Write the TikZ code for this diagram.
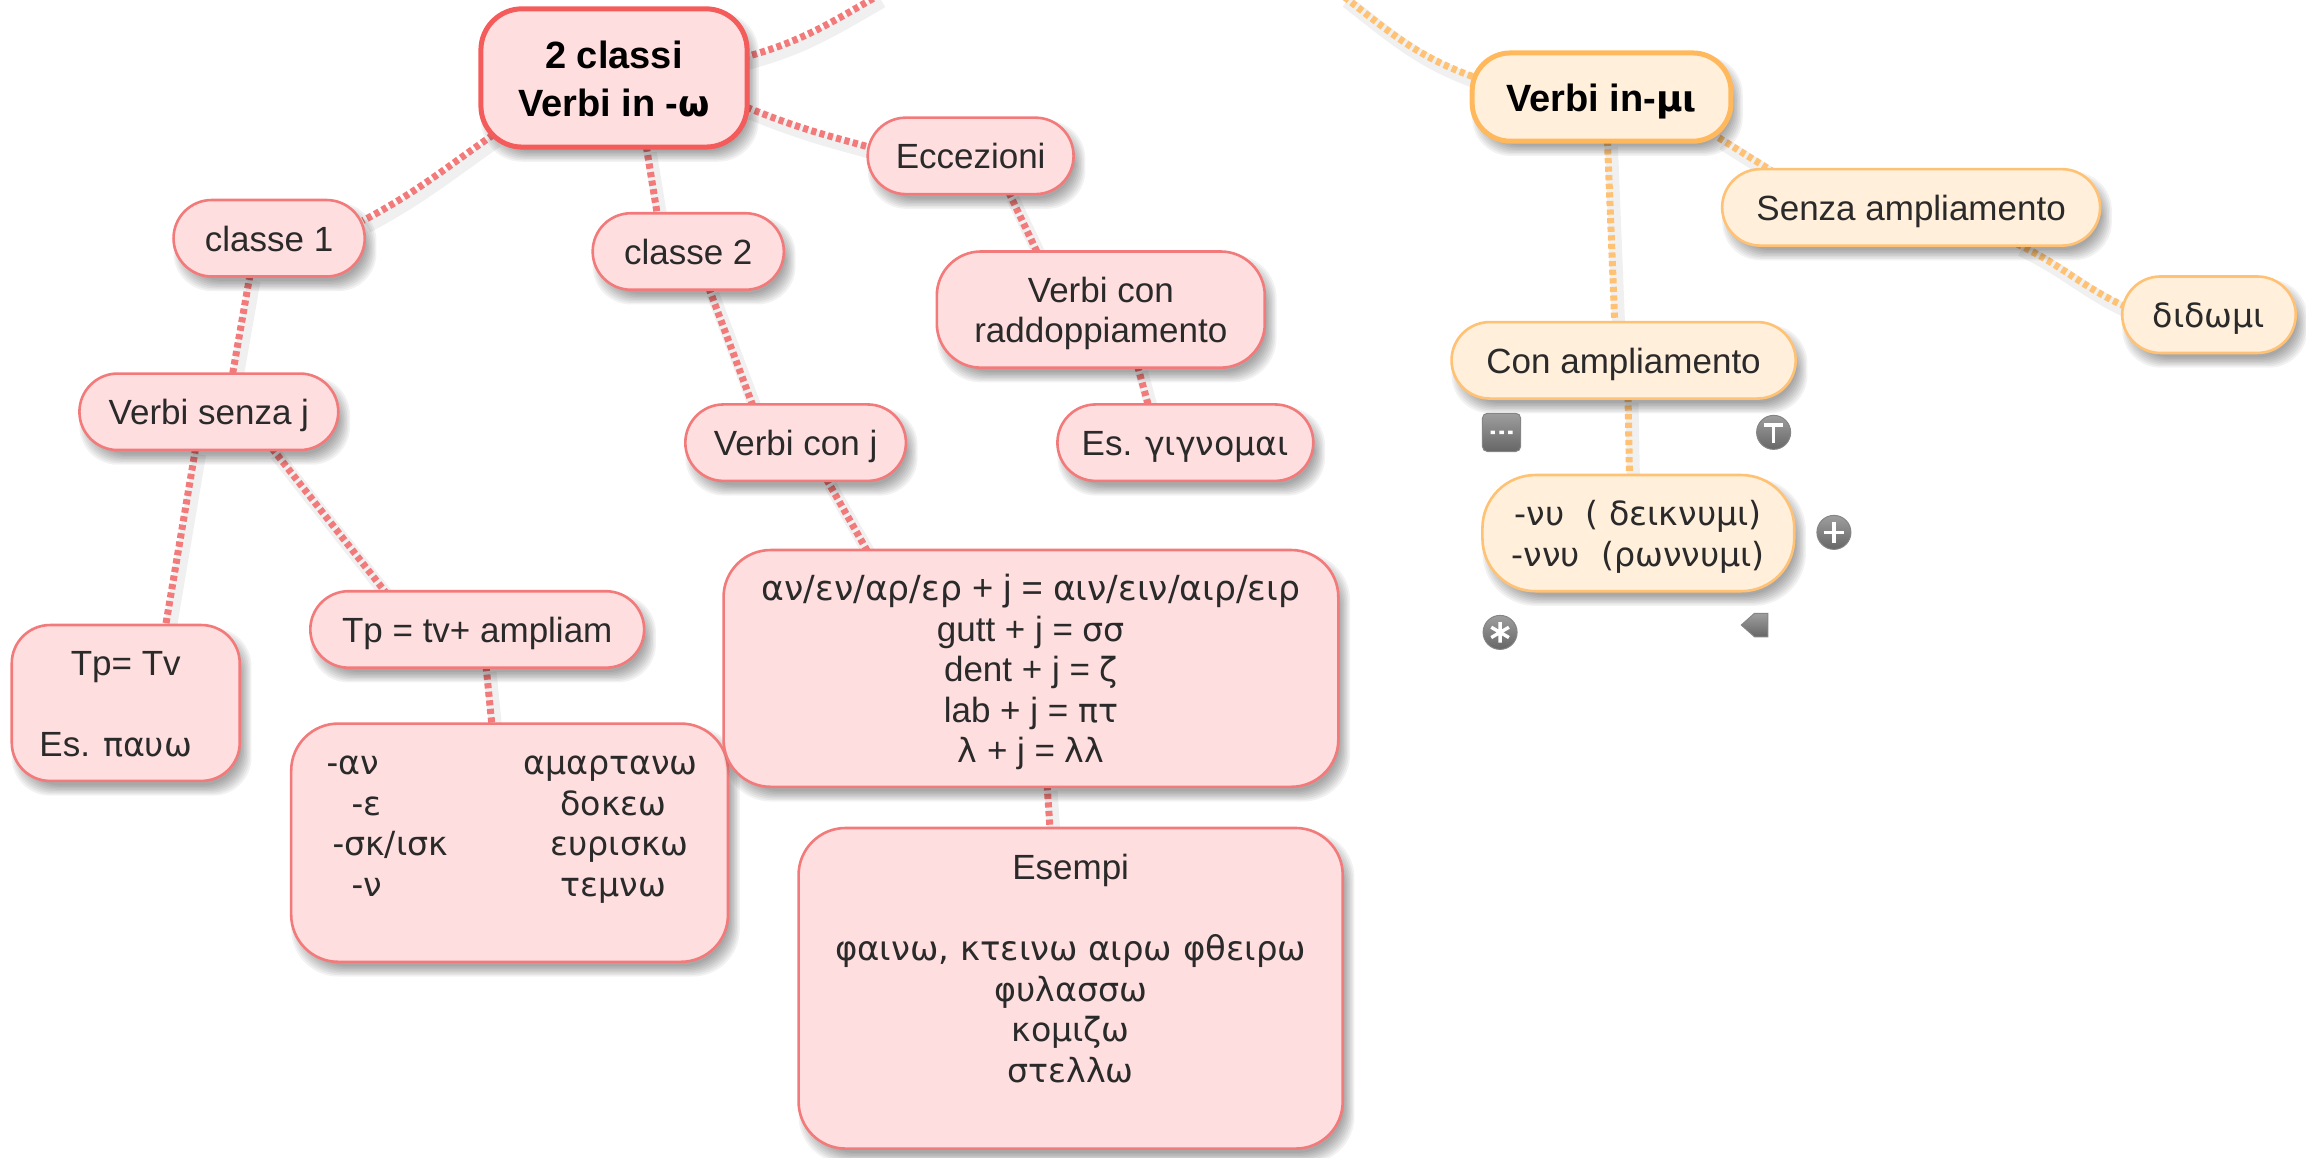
\documentclass[tikz,border=0pt]{standalone}
\usepackage{fontspec}
\setmainfont{Liberation Sans}
\newfontfamily\grk[Scale=0.95]{DejaVu Sans}
\usetikzlibrary{calc,backgrounds}
\definecolor{redfill}{HTML}{FFDEDF}
\definecolor{redline}{HTML}{F27A7A}
\definecolor{redroot}{HTML}{F45C5C}
\definecolor{orfill}{HTML}{FFEFDB}
\definecolor{orline}{HTML}{FFC274}
\definecolor{orroot}{HTML}{FFB85C}
\definecolor{inktext}{HTML}{2A2A2A}
\tikzset{
  redbox/.style={draw=redline,fill=redfill,line width=2.6pt},
  orbox/.style={draw=orline,fill=orfill,line width=2.6pt},
  redtop/.style={draw=redroot,fill=redfill,line width=5pt,text=black,font=\fontsize{38}{48}\selectfont\bfseries},
  ortop/.style={draw=orroot,fill=orfill,line width=5pt,text=black,font=\fontsize{38}{48}\selectfont\bfseries},
  linkbase/.style={line width=7pt,dash pattern=on 5.2pt off 3.4pt,
    preaction={draw=black,draw opacity=.06,line width=13pt,solid,transform canvas={shift={(4pt,-6pt)}}}},
  redlink/.style={linkbase,draw=redline},
  orlink/.style={linkbase,draw=orline},
  iconfill/.style={top color=black!38,bottom color=black!60,draw=black!48,line width=1pt},
  iconmark/.style={draw=white,line width=3.4pt},
}
\newcommand{\mapnode}[8]{%
  \pgfmathsetmacro{\mwid}{(#5-#3)*1.470663}%
  \pgfmathsetmacro{\mhgt}{(#6-#4)*1.470663}%
  \pgfmathsetmacro{\mrad}{#7*1.470663}%
  \foreach \i in {-3,-2,-1,0,1,2,3,4}{%
    \pgfmathsetmacro{\ax}{#3+4-\i}\pgfmathsetmacro{\ay}{#4+6-\i}%
    \pgfmathsetmacro{\bx}{#5+4+\i}\pgfmathsetmacro{\by}{#6+6+\i}%
    \path[fill=black,fill opacity=.05,rounded corners=\mrad pt] (\ax,\ay) rectangle (\bx,\by);%
  }%
  \node[#1,rectangle,rounded corners=\mrad pt,inner sep=0pt,
    minimum width=\mwid pt,minimum height=\mhgt pt] (#2) at ({(#3+#5)/2},{(#4+#6)/2})
    {\raisebox{-5pt}[\height][\depth]{\begin{tabular}{@{}c@{}}#8\end{tabular}}};%
}
\newcommand{\twocol}[4]{\makebox[366pt][l]{\hspace*{#1pt}\makebox[0pt][l]{#2}\hspace*{#3pt}\makebox[0pt][c]{#4}}}
\pgfdeclarelayer{links}
\pgfsetlayers{links,main}
\begin{document}
\begin{tikzpicture}[x=1.470663pt,y=-1.470663pt,text=inktext,font=\fontsize{35}{40.5}\selectfont]
\useasboundingbox (0,0) rectangle (1568,786.73);

\mapnode{redtop}{rootw}{327}{6}{508}{100}{28}{2 classi\\Verbi in -{\grk ω}}
\mapnode{redbox}{classa}{118}{136}{248}{188}{26}{classe 1}
\mapnode{redbox}{classb}{403}{145}{533}{197}{26}{classe 2}
\mapnode{redbox}{ecc}{590}{80}{730}{132}{26}{Eccezioni}
\mapnode{redbox}{radd}{637}{171}{860}{250}{30}{Verbi con\\raddoppiamento}
\mapnode{redbox}{esg}{719}{275}{893}{327}{26}{Es. {\grk γιγνομαι}}
\mapnode{redbox}{vsj}{54}{254}{230}{306}{26}{Verbi senza j}
\mapnode{redbox}{vcj}{466}{275}{616}{327}{26}{Verbi con j}
\mapnode{redbox}{tpa}{8}{425}{163}{531}{26}{Tp= Tv\\ \\Es. {\grk παυω}\hspace*{20pt}}
\mapnode{redbox}{tpb}{211}{402}{438}{454}{26}{Tp = tv+ ampliam}
\mapnode{redbox}{suff}{198}{492}{495}{654}{32}{%
  \twocol{0}{-{\grk αν}}{284}{\grk αμαρτανω}\\
  \twocol{25}{-{\grk ε}}{262}{\grk δοκεω}\\
  \twocol{6}{-{\grk σκ/ισκ}}{287}{\grk ευρισκω}\\
  \twocol{25}{-{\grk ν}}{262}{\grk τεμνω}\\ \mbox{}}
\mapnode{redbox}{rules}{492}{374}{910}{535}{32}{%
  \fontsize{36.4}{40.5}\selectfont{\grk αν/εν/αρ/ερ} + j = {\grk αιν/ειν/αιρ/ειρ}\\
  gutt + j = {\grk σσ}\\
  dent + j = {\grk ζ}\\
  lab + j = {\grk πτ}\\
  {\grk λ} + j = {\grk λλ}}
\mapnode{redbox}{esempi}{543}{563}{913}{781}{32}{%
  Esempi\\ \\
  \fontsize{35.7}{40.5}\selectfont{\grk φαινω, κτεινω αιρω φθειρω}\\
  {\grk φυλασσω}\\
  {\grk κομιζω}\\
  {\grk στελλω}\\ \mbox{}}

\mapnode{ortop}{rootm}{1001}{36}{1177}{96}{26}{Verbi in-{\grk μι}}
\mapnode{orbox}{senza}{1171}{115}{1428}{167}{26}{Senza ampliamento}
\mapnode{orbox}{did}{1443}{188}{1561}{240}{26}{\grk διδωμι}
\mapnode{orbox}{con}{987}{219}{1221}{271}{26}{Con ampliamento}
\mapnode{orbox}{nu}{1008}{323}{1220}{402}{36}{{\grk -νυ\ \ ( δεικνυμι)}\\{\grk -ννυ\ \ (ρωννυμι)}}

\coordinate (exita) at (597,-3);
\coordinate (exitb) at (913,-3);

\begin{pgfonlayer}{links}
\draw[redlink] ($(rootw.east)+(-4,-14)$) to[out=15,in=-150] (exita);
\draw[redlink] ($(rootw.south west)+(10,-10)$) to[out=-145,in=28] ($(classa.east)+(-2,-12)$);
\draw[redlink] ($(rootw.south)+(22,-2)$) -- ($(classb.north)+(-21,2)$);
\draw[redlink] ($(rootw.east)+(-2,20)$) to[out=-22,in=165] ($(ecc.west)+(2,-6)$);
\draw[redlink] ($(classa.south)+(-13,-2)$) -- ($(vsj.north)+(16,2)$);
\draw[redlink] ($(vsj.south)+(-9,-2)$) -- ($(tpa.north)+(27,2)$);
\draw[redlink] ($(vsj.south)+(43,-2)$) -- ($(tpb.north)+(-62,2)$);
\draw[redlink] ($(tpb.south)+(6,-2)$) -- ($(suff.north)+(-12,2)$);
\draw[redlink] ($(classb.south)+(14,-2)$) -- ($(vcj.north)+(-29,2)$);
\draw[redlink] ($(vcj.south)+(21,-2)$) -- ($(rules.north)+(-111,2)$);
\draw[redlink] ($(rules.south)+(11,-2)$) -- ($(esempi.north)+(-14,2)$);
\draw[redlink] ($(ecc.south)+(26,-2)$) -- ($(radd.north)+(-43,2)$);
\draw[redlink] ($(radd.south)+(25,-2)$) -- ($(esg.north)+(-25,2)$);
\draw[orlink] ($(rootm.west)+(2,-14)$) to[out=160,in=-38] (exitb);
\draw[orlink] ($(rootm.south east)+(-10,-4)$) -- ($(senza.north)+(-95,2)$);
\draw[orlink] ($(senza.south)+(72,-2)$) to[out=-25,in=155] ($(did.west)+(2,-6)$);
\draw[orlink] ($(rootm.south)+(4,-2)$) -- ($(con.north)+(-6,2)$);
\draw[orlink] ($(con.south)+(3,-2)$) -- ($(nu.north)+(-6,2)$);
\end{pgfonlayer}

% icons
\path[iconfill,rounded corners=5pt] (1008,281) rectangle (1034,307);
\fill[white] (1013.5,292.8) rectangle (1016.5,295.2) (1019.5,292.8) rectangle (1022.5,295.2) (1025.5,292.8) rectangle (1028.5,295.2);
\path[iconfill] (1206,294) circle[radius=17pt];
\draw[iconmark] (1199.5,289) -- (1212.5,289) (1206,289) -- (1206,301);
\path[iconfill] (1247,362) circle[radius=17pt];
\draw[iconmark] (1240,362) -- (1254,362) (1247,355) -- (1247,369);
\path[iconfill] (1020,430) circle[radius=17pt];
\draw[iconmark] (1020,423) -- (1020,437) (1014,426.5) -- (1026,433.5) (1014,433.5) -- (1026,426.5);
\path[iconfill] (1184,425) -- (1193,417) -- (1202,417) -- (1202,433) -- (1193,433) -- cycle;
\end{tikzpicture}
\end{document}
